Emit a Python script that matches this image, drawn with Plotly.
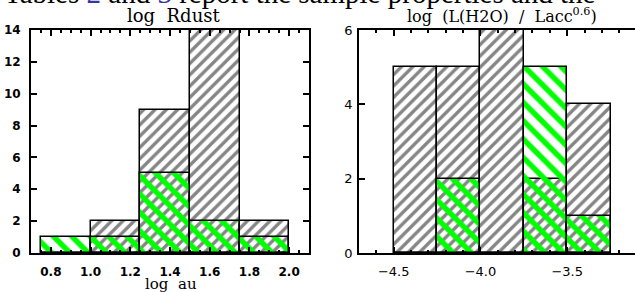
import plotly.graph_objects as go
from plotly.subplots import make_subplots

# ---- data ----
rdust_edges = [0.75, 1.0, 1.25, 1.5, 1.75, 2.0]
rdust_all = [0, 2, 9, 14, 2]
rdust_sub = [1, 1, 5, 2, 1]

lh2o_edges = [-4.5, -4.25, -4.0, -3.75, -3.5, -3.25]
lh2o_all = [5, 5, 6, 2, 4]
lh2o_sub = [0, 2, 0, 5, 1]

left_xticks = [0.8, 1.0, 1.2, 1.4, 1.6, 1.8, 2.0]
left_yticks = [0, 2, 4, 6, 8, 10, 12, 14]
right_xticks = [-4.5, -4.0, -3.5]
right_xticklabels = ["\u22124.5", "\u22124.0", "\u22123.5"]
right_yticks = [0, 2, 4, 6]

W, H = 635, 292
L_T, L_B = 30, 253
fig = make_subplots(rows=1, cols=2)


def centers(edges):
    return [(a + b) / 2 for a, b in zip(edges[:-1], edges[1:])]


def widths(edges):
    return [b - a for a, b in zip(edges[:-1], edges[1:])]


for col, edges, allv, subv in [(1, rdust_edges, rdust_all, rdust_sub),
                               (2, lh2o_edges, lh2o_all, lh2o_sub)]:
    fig.add_trace(go.Bar(
        x=centers(edges), y=allv, width=widths(edges),
        marker=dict(color="white", line=dict(color="black", width=1.5),
                    pattern=dict(shape="/", fgcolor="#858585", bgcolor="white",
                                 fgopacity=1, size=8, solidity=0.42)),
        showlegend=False, hoverinfo="skip"), row=1, col=col)
    fig.add_trace(go.Bar(
        x=centers(edges), y=subv, width=widths(edges),
        marker=dict(color="rgba(0,0,0,0)", line=dict(color="black", width=1.5),
                    pattern=dict(shape="\\", fgcolor="#00ff00", bgcolor="rgba(0,0,0,0)",
                                 fgopacity=1, size=13, solidity=0.42)),
        showlegend=False, hoverinfo="skip"), row=1, col=col)

tickfont_b = dict(family="DejaVu Sans", size=12, color="black", weight="bold")
tickfont_r = dict(family="DejaVu Sans", size=13, color="black")

common = dict(showgrid=False, zeroline=False, automargin=False, tickcolor="black",
              ticks="inside", ticklen=6, tickwidth=1.5, showline=True, linecolor="black")

fig.update_layout(
    width=W, height=H, barmode="overlay", bargap=0,
    paper_bgcolor="white", plot_bgcolor="white",
    margin=dict(l=0, r=0, t=L_T, b=H - L_B),
    xaxis=dict(domain=[31 / W, 309 / W], range=[0.7, 2.1],
               tickvals=left_xticks, ticktext=[f"{v:.1f}" for v in left_xticks],
               minor=dict(ticks="inside", ticklen=3, dtick=0.05, tick0=0, tickcolor="black"),
               linewidth=2, mirror="ticks", tickfont=tickfont_b, ticklabelstandoff=7, **common),
    yaxis=dict(domain=[0, 1], range=[0, 14], tickvals=left_yticks,
               linewidth=2, mirror="ticks", tickfont=tickfont_b, ticklabelstandoff=6, **common),
    xaxis2=dict(domain=[359 / W, 1.0], range=[-4.7, -3.109],
                tickvals=right_xticks, ticktext=right_xticklabels,
                minor=dict(ticks="inside", ticklen=3, dtick=0.1, tick0=0, tickcolor="black"),
                linewidth=1.5, mirror="ticks", tickfont=tickfont_r, ticklabelstandoff=6, **common),
    yaxis2=dict(domain=[0, 1], range=[0, 6], tickvals=right_yticks,
                linewidth=1.5, mirror=False, tickfont=tickfont_r, ticklabelstandoff=2, **common),
)

ph = L_B - L_T


def py(pix):
    return 1 + (L_T - pix) / ph


fig.add_annotation(text="log  Rdust", xref="paper", yref="paper",
                   x=173 / W, y=py(28), xanchor="center", yanchor="bottom",
                   showarrow=False, font=dict(family="DejaVu Serif", size=18, color="black"))
fig.add_annotation(text="log  (L(H2O)  /  Lacc<sup>0.6</sup>)", xref="paper", yref="paper",
                   x=502 / W, y=py(28), xanchor="center", yanchor="bottom",
                   showarrow=False, font=dict(family="DejaVu Serif", size=16, color="black"))
fig.add_annotation(text="log  au", xref="paper", yref="paper",
                   x=171 / W, y=py(284), xanchor="center", yanchor="middle",
                   showarrow=False, font=dict(family="DejaVu Serif", size=15, color="black"))
fig.add_annotation(
    text="Tables <span style='color:#3535a5'>2</span> and <span style='color:#3535a5'>3</span> report the sample properties and the",
    xref="paper", yref="paper", x=2 / W, y=py(11), xanchor="left", yanchor="bottom",
    showarrow=False, font=dict(family="Liberation Serif", size=29, color="black"))

fig.write_html("out.html", config={"displayModeBar": False},
               post_script="document.body.style.margin='0';")
